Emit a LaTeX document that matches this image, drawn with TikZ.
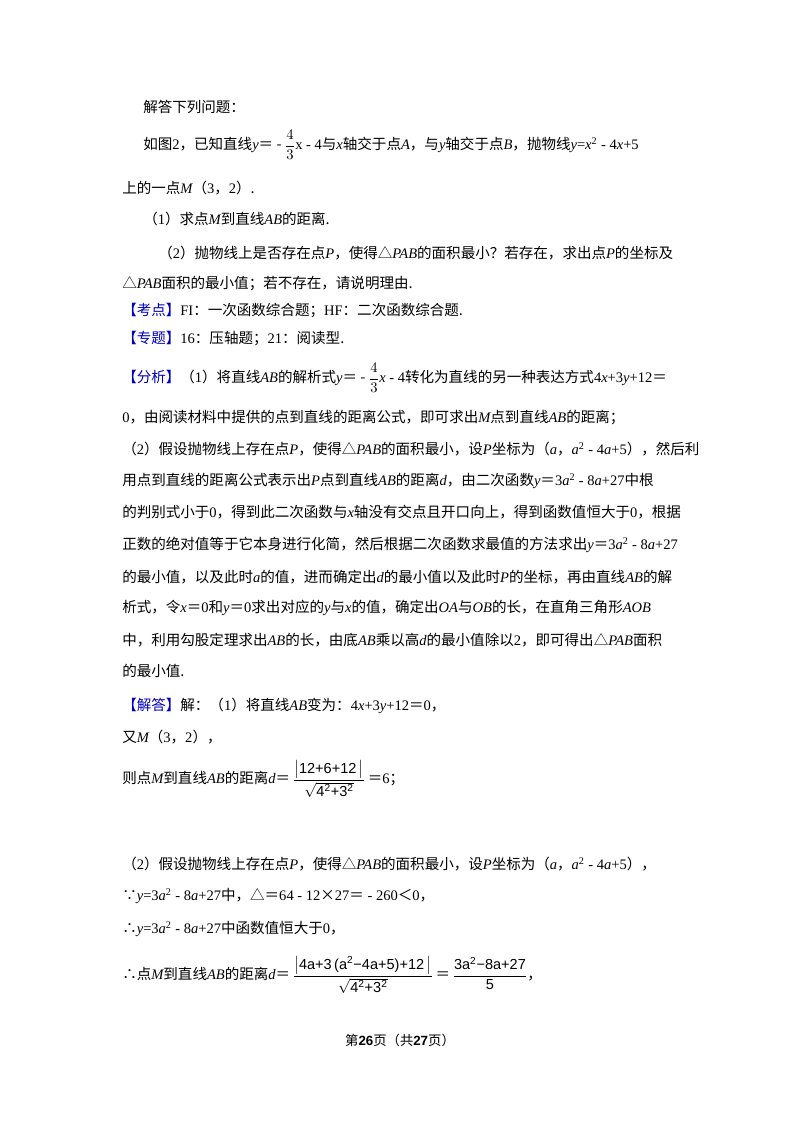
\documentclass[tikz,border=0pt]{standalone}
\usepackage{amsmath}
\usepackage{fontspec}
\setmainfont{Noto Sans CJK SC}
\newfontfamily\tm{Liberation Serif}
\newfontfamily\sfm{Liberation Sans}
\newcommand\e[1]{{\tm #1}}
\newcommand\iv[1]{{\tm\itshape #1}}
\newcommand\bl[1]{\textcolor{blue!75!black}{#1}}
\newcommand\sq{\textsuperscript{\tm 2}}
\begin{document}
\begin{tikzpicture}[x=0.75pt,y=-0.75pt,
  ln/.style={anchor=west,inner sep=0pt,font=\fontsize{10.9}{13}\selectfont}]
\useasboundingbox[fill=white] (0,0) rectangle (800,1132);
\node[ln] (l1) at (143,107) {解答下列问题：};
\node[ln] (l2) at (143,145) {如图\e{2}，已知直线\iv{y}＝ - $\dfrac{4}{3}$\e{x - 4}与\iv{x}轴交于点\iv{A}，与\iv{y}轴交于点\iv{B}，抛物线\iv{y}\e{=}\iv{x}\sq\e{ - 4}\iv{x}\e{+5}};
\node[ln] (l3) at (122,188) {上的一点\iv{M}（\e{3}，\e{2}）.};
\node[ln] (l4) at (143,219) {（\e{1}）求点\iv{M}到直线\iv{AB}的距离.};
\node[ln] (l5) at (158,253) {（\e{2}）抛物线上是否存在点\iv{P}，使得△\iv{PAB}的面积最小？若存在，求出点\iv{P}的坐标及};
\node[ln] (l6) at (122,284) {△\iv{PAB}面积的最小值；若不存在，请说明理由.};
\node[ln] (l7) at (122,311) {\bl{【考点】}\e{FI}：一次函数综合题；\e{HF}：二次函数综合题.};
\node[ln] (l8) at (122,339) {\bl{【专题】}\e{16}：压轴题；\e{21}：阅读型.};
\node[ln] (l9) at (122,378) {\bl{【分析】}（\e{1}）将直线\iv{AB}的解析式\iv{y}＝ - $\dfrac{4}{3}$\iv{x}\e{ - 4}转化为直线的另一种表达方式\e{4}\iv{x}\e{+3}\iv{y}\e{+12}＝};
\node[ln] (l10) at (122,418) {\e{0}，由阅读材料中提供的点到直线的距离公式，即可求出\iv{M}点到直线\iv{AB}的距离；};
\node[ln] (l11) at (122,449) {（\e{2}）假设抛物线上存在点\iv{P}，使得△\iv{PAB}的面积最小，设\iv{P}坐标为（\iv{a}，\iv{a}\sq\e{ - 4}\iv{a}\e{+5}），然后利};
\node[ln] (l12) at (122,481) {用点到直线的距离公式表示出\iv{P}点到直线\iv{AB}的距离\iv{d}，由二次函数\iv{y}＝\e{3}\iv{a}\sq\e{ - 8}\iv{a}\e{+27}中根};
\node[ln] (l13) at (122,512) {的判别式小于\e{0}，得到此二次函数与\iv{x}轴没有交点且开口向上，得到函数值恒大于\e{0}，根据};
\node[ln] (l14) at (122,545) {正数的绝对值等于它本身进行化简，然后根据二次函数求最值的方法求出\iv{y}＝\e{3}\iv{a}\sq\e{ - 8}\iv{a}\e{+27}};
\node[ln] (l15) at (122,577) {的最小值，以及此时\iv{a}的值，进而确定出\iv{d}的最小值以及此时\iv{P}的坐标，再由直线\iv{AB}的解};
\node[ln] (l16) at (122,608) {析式，令\iv{x}＝\e{0}和\iv{y}＝\e{0}求出对应的\iv{y}与\iv{x}的值，确定出\iv{OA}与\iv{OB}的长，在直角三角形\iv{AOB}};
\node[ln] (l17) at (122,640) {中，利用勾股定理求出\iv{AB}的长，由底\iv{AB}乘以高\iv{d}的最小值除以\e{2}，即可得出△\iv{PAB}面积};
\node[ln] (l18) at (122,671) {的最小值.};
\node[ln] (l19) at (122,706) {\bl{【解答】}解：（\e{1}）将直线\iv{AB}变为：\e{4}\iv{x}\e{+3}\iv{y}\e{+12}＝\e{0}，};
\node[ln] (l20) at (122,737) {又\iv{M}（\e{3}，\e{2}），};
\node[ln] (l21) at (122,779) {则点\iv{M}到直线\iv{AB}的距离\iv{d}＝\,$\dfrac{\big|\text{\sfm 12+6+12}\,\big|}{\sqrt{\text{\sfm 4\textsuperscript{2}+3\textsuperscript{2}}}}$\,＝\e{6}；};
\node[ln] (l22) at (122,864) {（\e{2}）假设抛物线上存在点\iv{P}，使得△\iv{PAB}的面积最小，设\iv{P}坐标为（\iv{a}，\iv{a}\sq\e{ - 4}\iv{a}\e{+5}），};
\node[ln] (l23) at (122,896) {∵\iv{y}\e{=3}\iv{a}\sq\e{ - 8}\iv{a}\e{+27}中，△＝\e{64 - 12}×\e{27}＝\e{ - 260}＜\e{0}，};
\node[ln] (l24) at (122,929) {∴\iv{y}\e{=3}\iv{a}\sq\e{ - 8}\iv{a}\e{+27}中函数值恒大于\e{0}，};
\node[ln] (l25) at (122,975) {∴点\iv{M}到直线\iv{AB}的距离\iv{d}＝\,$\dfrac{\big|\text{\sfm 4a+3\,(a\textsuperscript{2}−4a+5)+12}\,\big|}{\sqrt{\text{\sfm 4\textsuperscript{2}+3\textsuperscript{2}}}}$\,＝\,$\dfrac{\text{\sfm 3a\textsuperscript{2}−8a+27}}{\text{\sfm 5}}$，};
\node[ln,anchor=center,font=\fontsize{10}{12}\selectfont] (l26) at (400,1040) {第\textbf{\sfm 26}页（共\textbf{\sfm 27}页）};
\end{tikzpicture}
\end{document}
